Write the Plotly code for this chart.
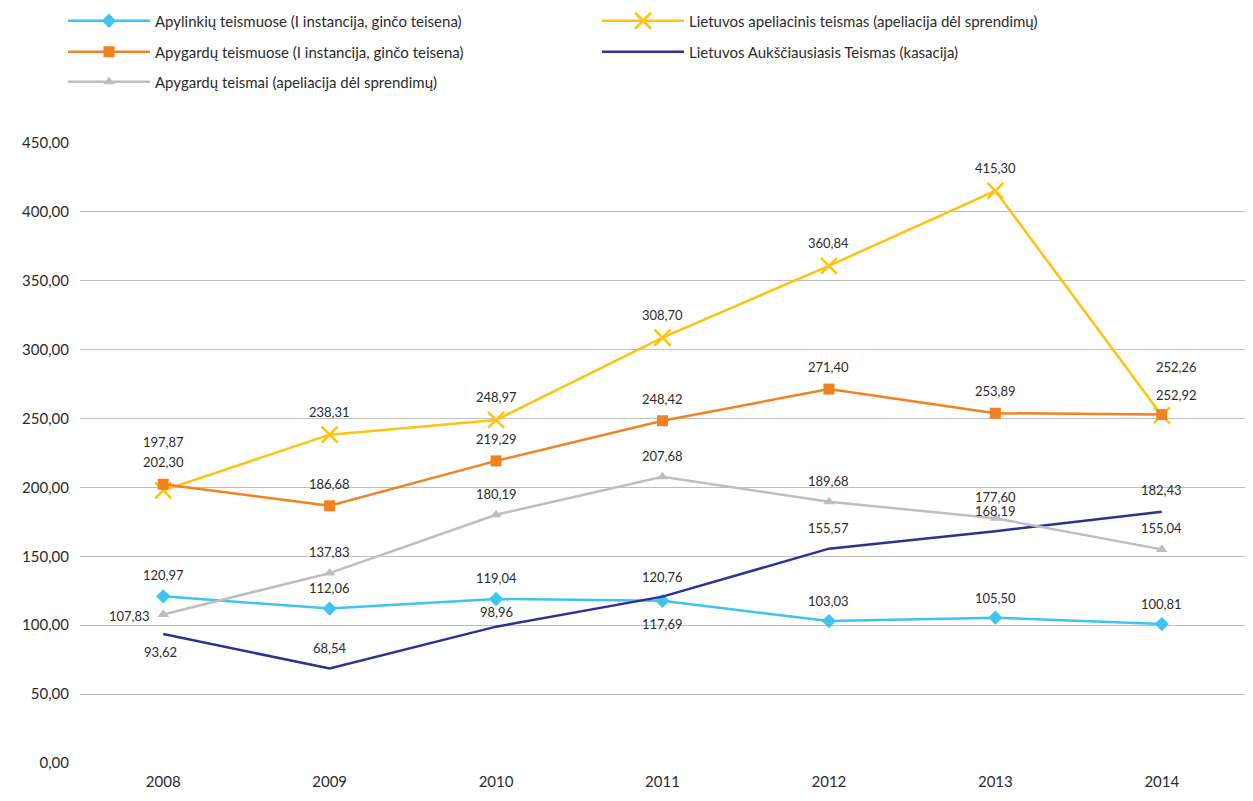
import plotly.graph_objects as go

# Data
years = ["2008", "2009", "2010", "2011", "2012", "2013", "2014"]

apylinkiu = [120.97, 112.06, 119.04, 117.69, 103.03, 105.50, 100.81]
apygardu_i = [202.30, 186.68, 219.29, 248.42, 271.40, 253.89, 252.92]
apygardu_apel = [107.83, 137.83, 180.19, 207.68, 189.68, 177.60, 155.04]
lat_apel = [197.87, 238.31, 248.97, 308.70, 360.84, 415.30, 252.26]
lat_kasacija = [93.62, 68.54, 98.96, 120.76, 155.57, 168.19, 182.43]

FONT = "Lato"
TEXT_COLOR = "#2b2b2b"

# figure size and plot area in px (page body adds an 8px offset)
W, H = 1245, 793
L, R, T, B = 72, 8, 135, 38
PW, PH = W - L - R, H - T - B

# (name, values, color, marker symbol, marker size, legend id, label offsets (dx, dy) px)
series = [
    ("Apylinkių teismuose (I instancija, ginčo teisena)", apylinkiu, "#3FC4F1",
     "diamond", 11, "legend", [(0, 21)] * 3 + [(0, -23)] + [(0, 20)] * 3),
    ("Lietuvos apeliacinis teismas (apeliacija dėl sprendimų)", lat_apel, "#FFC20E",
     "x-thin", 16, "legend", [(0, 48)] + [(0, 23)] * 5 + [(15, 48)]),
    ("Apygardų teismuose (I instancija, ginčo teisena)", apygardu_i, "#F58220",
     "square", 11, "legend2", [(0, 22)] * 6 + [(15, 20)]),
    ("Lietuvos Aukščiausiasis Teismas (kasacija)", lat_kasacija, "#2E3192",
     None, 0, "legend2", [(-3, -18), (0, 21), (0, 15), (0, 20), (0, 21), (0, 20), (0, 22)]),
    ("Apygardų teismai (apeliacija dėl sprendimų)", apygardu_apel, "#BDBEC0",
     "triangle-up", 10, "legend3", [(-34, -2)] + [(0, 21)] * 6),
]

fig = go.Figure()
annotations = []

for name, values, color, symbol, msize, leg, offsets in series:
    if symbol is None:
        fig.add_trace(go.Scatter(
            x=years, y=values, name=name, mode="lines", legend=leg,
            line=dict(color=color, width=2.5),
        ))
    else:
        marker = dict(symbol=symbol, size=msize, color=color)
        if symbol == "x-thin":
            marker["line"] = dict(color=color, width=2.5)
        fig.add_trace(go.Scatter(
            x=years, y=values, name=name, mode="lines+markers", legend=leg,
            line=dict(color=color, width=2.5), marker=marker,
        ))
    for i, (v, (dx, dy)) in enumerate(zip(values, offsets)):
        annotations.append(dict(
            x=i, y=v, xref="x", yref="y", text=f"{v:.2f}".replace(".", ","),
            showarrow=False, xshift=dx, yshift=dy,
            font=dict(family=FONT, size=13, color=TEXT_COLOR),
        ))


def legend_row(row_y):
    return dict(
        orientation="h", x=(55 - L) / PW, xanchor="left",
        y=(H - B - row_y) / PH, yanchor="middle",
        entrywidth=437, entrywidthmode="pixels", itemwidth=82,
        font=dict(family=FONT, size=15, color=TEXT_COLOR),
        bgcolor="rgba(0,0,0,0)",
    )


fig.update_layout(
    width=W, height=H,
    margin=dict(l=L, r=R, t=T, b=B, autoexpand=False),
    paper_bgcolor="white", plot_bgcolor="white",
    separators=", ",
    font=dict(family=FONT, size=14, color=TEXT_COLOR),
    annotations=annotations,
    showlegend=True,
    legend=legend_row(13),
    legend2=legend_row(44),
    legend3=legend_row(74),
    xaxis=dict(
        type="category", showgrid=False, showline=False, zeroline=False,
        ticks="", ticklabelstandoff=8,
        tickfont=dict(family=FONT, size=15, color=TEXT_COLOR),
        range=[-0.5, 6.5],
    ),
    yaxis=dict(
        range=[0, 450], dtick=50, tickformat=".2f",
        showgrid=True, gridcolor="#BFBFBF", gridwidth=1,
        zeroline=False, showline=False, ticks="", ticklabelstandoff=10,
        tickfont=dict(family=FONT, size=15, color=TEXT_COLOR),
    ),
)

fig.write_html("out.html")
